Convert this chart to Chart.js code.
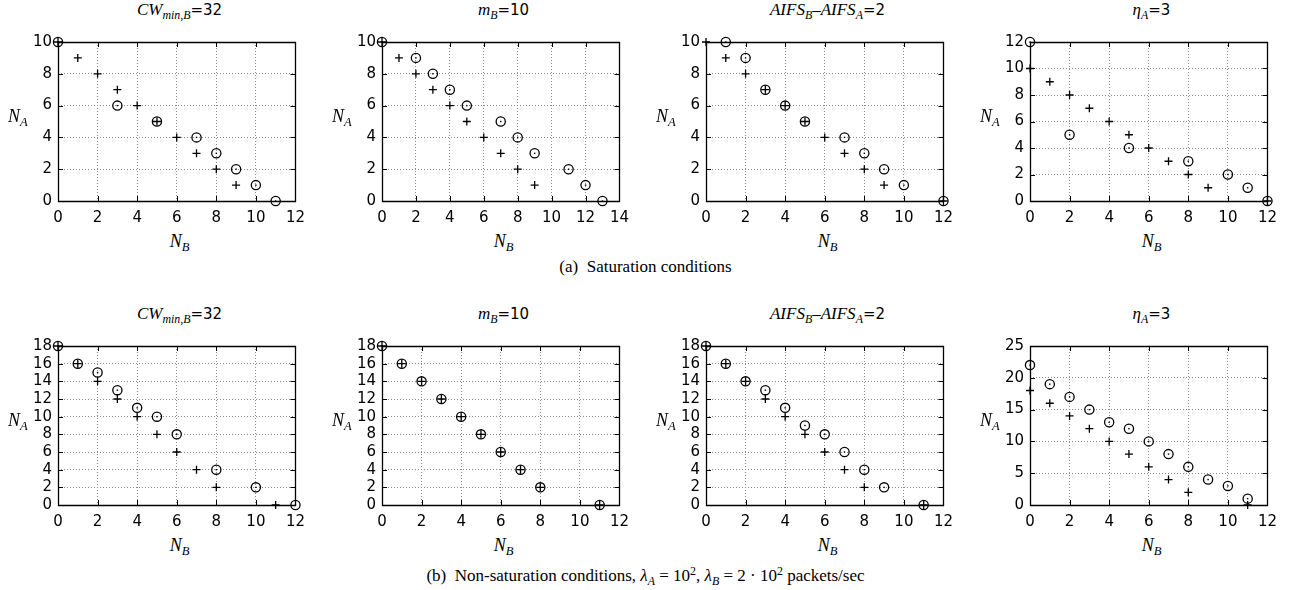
<!DOCTYPE html>
<html>
<head>
<meta charset="utf-8">
<script src="https://cdn.jsdelivr.net/npm/chart.js@4/dist/chart.umd.min.js"></script>
<style>
  body { margin: 0; background: #fff; width: 1291px; height: 590px; position: relative; overflow: hidden; }
  canvas { position: absolute; }
  .t { position: absolute; text-align: center; white-space: nowrap; color: #000; }
  .title { font: 17px "Liberation Serif", serif; line-height: 18px; width: 243px; }
  .title .s { font-family: "DejaVu Sans", sans-serif; font-style: normal; font-size: 15px; }
  .lab { font: italic 18px "Liberation Serif", serif; line-height: 20px; }
  sub { font-size: 70%; vertical-align: -0.35em; line-height: 0; }
  sup { font-size: 70%; vertical-align: 0.5em; line-height: 0; }
  .cap { font: 17px "Liberation Serif", serif; line-height: 20px; width: 1291px; left: 0; }
</style>
</head>
<body>
<script>
// (a) saturation conditions: [N_B, N_A]
const satCwPlus     = [[0,10],[1,9],[2,8],[3,7],[4,6],[5,5],[6,4],[7,3],[8,2],[9,1]];
const satCwCircle   = [[0,10],[3,6],[5,5],[7,4],[8,3],[9,2],[10,1],[11,0]];
const satMPlus      = [[0,10],[1,9],[2,8],[3,7],[4,6],[5,5],[6,4],[7,3],[8,2],[9,1]];
const satMCircle    = [[0,10],[2,9],[3,8],[4,7],[5,6],[7,5],[8,4],[9,3],[11,2],[12,1],[13,0]];
const satAifsPlus   = [[0,10],[1,9],[2,8],[3,7],[4,6],[5,5],[6,4],[7,3],[8,2],[9,1],[12,0]];
const satAifsCircle = [[1,10],[2,9],[3,7],[4,6],[5,5],[7,4],[8,3],[9,2],[10,1],[12,0]];
const satEtaPlus    = [[0,10],[1,9],[2,8],[3,7],[4,6],[5,5],[6,4],[7,3],[8,2],[9,1],[12,0]];
const satEtaCircle  = [[0,12],[2,5],[5,4],[8,3],[10,2],[11,1],[12,0]];

// (b) non-saturation conditions
const nsCwPlus      = [[0,18],[1,16],[2,14],[3,12],[4,10],[5,8],[6,6],[7,4],[8,2],[11,0]];
const nsCwCircle    = [[0,18],[1,16],[2,15],[3,13],[4,11],[5,10],[6,8],[8,4],[10,2],[12,0]];
const nsMPlus       = [[0,18],[1,16],[2,14],[3,12],[4,10],[5,8],[6,6],[7,4],[8,2],[11,0]];
const nsMCircle     = [[0,18],[1,16],[2,14],[3,12],[4,10],[5,8],[6,6],[7,4],[8,2],[11,0]];
const nsAifsPlus    = [[0,18],[1,16],[2,14],[3,12],[4,10],[5,8],[6,6],[7,4],[8,2],[11,0]];
const nsAifsCircle  = [[0,18],[1,16],[2,14],[3,13],[4,11],[5,9],[6,8],[7,6],[8,4],[9,2],[11,0]];
const nsEtaPlus     = [[0,18],[1,16],[2,14],[3,12],[4,10],[5,8],[6,6],[7,4],[8,2],[11,0]];
const nsEtaCircle   = [[0,22],[1,19],[2,17],[3,15],[4,13],[5,12],[6,10],[7,8],[8,6],[9,4],[10,3],[11,1]];

// panel titles (html, math parts in italic serif)
const titles = [
  '<i>CW</i><sub><i>min,B</i></sub><span class="s">=32</span>',
  '<i>m</i><sub><i>B</i></sub><span class="s">=10</span>',
  '<i>AIFS</i><sub><i>B</i></sub>–<i>AIFS</i><sub><i>A</i></sub><span class="s">=2</span>',
  '<i>η</i><sub><i>A</i></sub><span class="s">=3</span>'
];

const colLeft = [58, 382, 706, 1030];
const rowTop = [35, 339];
const plotW = 243, plotH = 166;
const padL = 52, padT = 8, padR = 12, padB = 30;

// gnuplot style box with inward ticks on all four sides
const frame = {
  id: 'boxframe',
  afterDraw(chart) {
    const a = chart.chartArea, g = chart.ctx;
    const sx = chart.scales.x, sy = chart.scales.y;
    g.save();
    g.setLineDash([]);
    g.strokeStyle = '#000';
    g.lineWidth = 1.3;
    g.beginPath();
    g.rect(Math.round(a.left) + 0.5, Math.round(a.top) + 0.5,
           Math.round(a.right - a.left), Math.round(a.bottom - a.top));
    g.stroke();
    g.lineWidth = 1;
    g.beginPath();
    sx.ticks.forEach(t => {
      const p = Math.round(sx.getPixelForValue(t.value)) + 0.5;
      g.moveTo(p, a.bottom); g.lineTo(p, a.bottom - 5);
      g.moveTo(p, a.top); g.lineTo(p, a.top + 5);
    });
    sy.ticks.forEach(t => {
      const p = Math.round(sy.getPixelForValue(t.value)) + 0.5;
      g.moveTo(a.left, p); g.lineTo(a.left + 5, p);
      g.moveTo(a.right, p); g.lineTo(a.right - 5, p);
    });
    g.stroke();
    g.restore();
  }
};

// small dot in the middle of each open circle
const centreDots = {
  id: 'centreDots',
  afterDatasetsDraw(chart) {
    const g = chart.ctx;
    g.save();
    g.fillStyle = '#000';
    chart.data.datasets.forEach((ds, i) => {
      if (!ds.centreDot) return;
      chart.getDatasetMeta(i).data.forEach(el => {
        g.fillRect(el.x - 0.7, el.y - 0.7, 1.4, 1.4);
      });
    });
    g.restore();
  }
};

function pts(arr) { return arr.map(p => ({ x: p[0], y: p[1] })); }

function addText(cls, html, left, top, width) {
  const d = document.createElement('div');
  d.className = 't ' + cls;
  d.innerHTML = html;
  d.style.left = left + 'px';
  d.style.top = top + 'px';
  if (width) d.style.width = width + 'px';
  document.body.appendChild(d);
  return d;
}

function makePanel(col, row, xMax, yMax, yStep, plus, circle) {
  const L = colLeft[col], T = rowTop[row];
  const cv = document.createElement('canvas');
  cv.width = plotW + padL + padR;
  cv.height = plotH + padT + padB;
  cv.style.left = (L - padL) + 'px';
  cv.style.top = (T - padT) + 'px';
  document.body.appendChild(cv);

  const tickFont = { family: 'DejaVu Sans', size: 15 };
  const grid = { color: '#8a8a8a', lineWidth: 1, drawTicks: false };
  const border = { display: false, dash: [1, 2] };

  new Chart(cv, {
    type: 'scatter',
    data: {
      datasets: [
        { data: pts(plus), pointStyle: 'cross', pointRadius: 4, pointBorderWidth: 1.3,
          borderColor: '#000', backgroundColor: '#000', clip: false },
        { data: pts(circle), pointStyle: 'circle', pointRadius: 4.6, pointBorderWidth: 1.3,
          borderColor: '#000', backgroundColor: 'rgba(0,0,0,0)', clip: false, centreDot: true }
      ]
    },
    options: {
      responsive: false,
      animation: false,
      events: [],
      layout: { padding: { left: 0, top: padT, right: padR, bottom: 0 } },
      plugins: { legend: { display: false }, tooltip: { enabled: false } },
      scales: {
        x: {
          type: 'linear', min: 0, max: xMax,
          ticks: { stepSize: 2, autoSkip: false, color: '#000', font: tickFont, padding: 8, maxRotation: 0 },
          grid: grid, border: border,
          afterFit(s) { s.height = padB; }
        },
        y: {
          type: 'linear', min: 0, max: yMax,
          ticks: { stepSize: yStep, autoSkip: false, color: '#000', font: tickFont, padding: 6 },
          grid: grid, border: border,
          afterFit(s) { s.width = padL; }
        }
      }
    },
    plugins: [frame, centreDots]
  });

  addText('title', titles[col], L, T - 34);
  addText('lab', '<i>N</i><sub><i>A</i></sub>', L - 50, T + plotH / 2 - 12);
  addText('lab', '<i>N</i><sub><i>B</i></sub>', L, T + plotH + 30, plotW);
}

makePanel(0, 0, 12, 10, 2, satCwPlus, satCwCircle);
makePanel(1, 0, 14, 10, 2, satMPlus, satMCircle);
makePanel(2, 0, 12, 10, 2, satAifsPlus, satAifsCircle);
makePanel(3, 0, 12, 12, 2, satEtaPlus, satEtaCircle);
makePanel(0, 1, 12, 18, 2, nsCwPlus, nsCwCircle);
makePanel(1, 1, 12, 18, 2, nsMPlus, nsMCircle);
makePanel(2, 1, 12, 18, 2, nsAifsPlus, nsAifsCircle);
makePanel(3, 1, 12, 25, 5, nsEtaPlus, nsEtaCircle);

addText('cap', '(a)&nbsp; Saturation conditions', 0, 257);
addText('cap', '(b)&nbsp; Non-saturation conditions, <i>λ</i><sub><i>A</i></sub> = 10<sup>2</sup>, <i>λ</i><sub><i>B</i></sub> = 2 · 10<sup>2</sup> packets/sec', 0, 566);
</script>
</body>
</html>
